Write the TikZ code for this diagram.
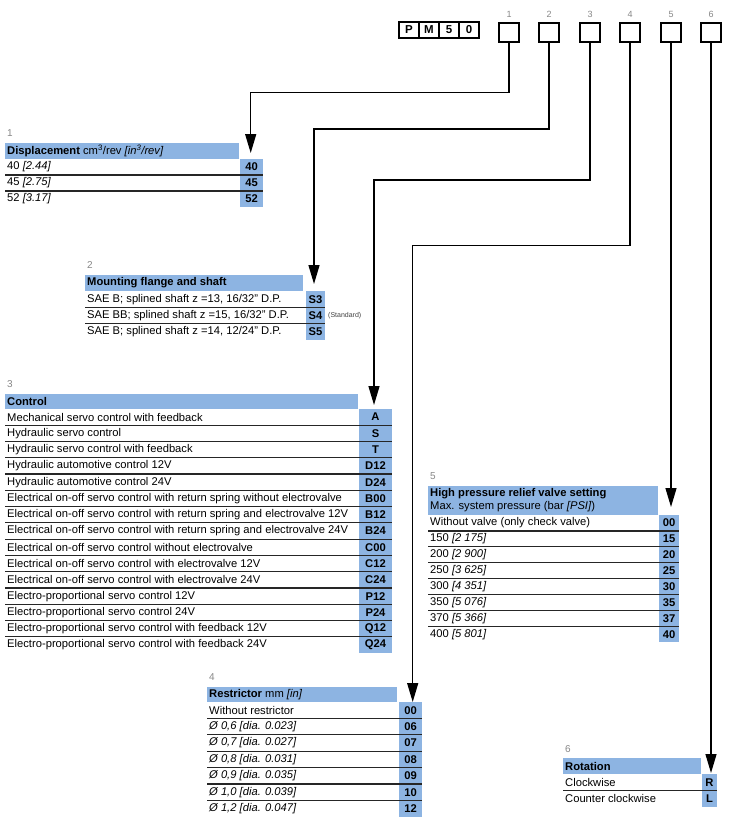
\documentclass[tikz,border=0pt]{standalone}
\usepackage{fontspec}
\setmainfont{Liberation Sans}
\usetikzlibrary{arrows.meta}
\definecolor{cellblue}{RGB}{141,180,226}
\definecolor{labgrey}{RGB}{135,135,135}
\newcommand\secparams[5]{\def\SX{#1}\def\SHB{#2}\def\SRH{#3}\def\SCC{#4}\def\SCR{#5}}
\newcommand\trow[5]{%
  \pgfmathsetmacro\ymid{\SHB+(#2-0.5)*\SRH}%
  \pgfmathsetmacro\ybot{\SHB+#2*\SRH}%
  \node[rowtxt] (#1t#2) at (\SX+1,\ymid) {#3};%
  \node[codetxt] (#1c#2) at (\SCC,\ymid) {#4};%
  \ifnum#5=1 \draw[sep] (\SX,\ybot) -- (\SCR,\ybot);\fi
}
\begin{document}
\begin{tikzpicture}[x=1pt,y=-1pt,
  rowtxt/.style={anchor=west,inner sep=1pt,font=\fontsize{11.2}{13}\selectfont},
  codetxt/.style={inner sep=0pt,font=\fontsize{11.2}{13}\selectfont\bfseries},
  headtxt/.style={anchor=west,inner sep=1pt,font=\fontsize{11.2}{13}\selectfont,align=left},
  seclab/.style={anchor=west,inner sep=0pt,text=labgrey,font=\fontsize{10}{12}\selectfont},
  toplab/.style={inner sep=0pt,text=labgrey,font=\fontsize{9}{10}\selectfont},
  sep/.style={draw=black!85,line width=1.2pt},
  pmcell/.style={draw=black,line width=1.8pt,minimum width=20pt,minimum height=16pt,inner sep=0pt,font=\fontsize{11.5}{13}\selectfont\bfseries},
  optbox/.style={draw=black,line width=2pt,minimum width=20pt,minimum height=19pt,inner sep=0pt},
  conn/.style={draw=black,line width=1.3pt,-{Triangle[length=19pt,width=11pt]}}]
\useasboundingbox (0,0) rectangle (730,827);

% ---- header code boxes
\node[pmcell] (p1) at (409,30) {P};
\node[pmcell] (p2) at (429,30) {M};
\node[pmcell] (p3) at (449,30) {5};
\node[pmcell] (p4) at (469,30) {0};
\foreach \i/\x in {1/509,2/549,3/590,4/630,5/671,6/711}{
  \node[optbox] (b\i) at (\x,32) {};
  \node[toplab] (n\i) at (\x,14.5) {\i};
}

% ---- Section 1
\node[seclab] (l1) at (7,133.5) {1};
\fill[cellblue] (5,143) rectangle (239,159);
\node[headtxt] (h1) at (6,151) {\textbf{Displacement} cm\textsuperscript{3}/rev \textit{[in\textsuperscript{3}/rev]}};
\fill[cellblue] (240,159) rectangle (263,207);
\secparams{5}{159}{16}{251.5}{263}
\trow{a}{1}{40 \textit{[2.44]}}{40}{1}
\trow{a}{2}{45 \textit{[2.75]}}{45}{1}
\trow{a}{3}{52 \textit{[3.17]}}{52}{0}

% ---- Section 2
\node[seclab] (l2) at (87,265.5) {2};
\fill[cellblue] (85,275) rectangle (303,291);
\node[headtxt] (h2) at (86,283) {\textbf{Mounting flange and shaft}};
\fill[cellblue] (306,291) rectangle (325,340);
\secparams{85}{291}{16.3}{315.5}{325}
\trow{b}{1}{SAE B; splined shaft z =13, 16/32" D.P.}{S3}{1}
\trow{b}{2}{SAE BB; splined shaft z =15, 16/32" D.P.}{S4}{1}
\trow{b}{3}{SAE B; splined shaft z =14, 12/24" D.P.}{S5}{0}
\node[anchor=west,inner sep=0pt,font=\fontsize{7}{8}\selectfont,text=black!75] (std) at (328,315.5) {(Standard)};

% ---- Section 3
\node[seclab] (l3) at (7,384) {3};
\fill[cellblue] (5,394) rectangle (358,409);
\node[headtxt] (h3) at (6,401.5) {\textbf{Control}};
\fill[cellblue] (359,409) rectangle (392,653);
\secparams{5}{409}{16.27}{375.5}{392}
\trow{c}{1}{Mechanical servo control with feedback}{A}{1}
\trow{c}{2}{Hydraulic servo control}{S}{1}
\trow{c}{3}{Hydraulic servo control with feedback}{T}{1}
\trow{c}{4}{Hydraulic automotive control 12V}{D12}{1}
\trow{c}{5}{Hydraulic automotive control 24V}{D24}{1}
\trow{c}{6}{Electrical on-off servo control with return spring without electrovalve}{B00}{1}
\trow{c}{7}{Electrical on-off servo control with return spring and electrovalve 12V}{B12}{1}
\trow{c}{8}{Electrical on-off servo control with return spring and electrovalve 24V}{B24}{1}
\trow{c}{9}{Electrical on-off servo control without electrovalve}{C00}{1}
\trow{c}{10}{Electrical on-off servo control with electrovalve 12V}{C12}{1}
\trow{c}{11}{Electrical on-off servo control with electrovalve 24V}{C24}{1}
\trow{c}{12}{Electro-proportional servo control 12V}{P12}{1}
\trow{c}{13}{Electro-proportional servo control 24V}{P24}{1}
\trow{c}{14}{Electro-proportional servo control with feedback 12V}{Q12}{1}
\trow{c}{15}{Electro-proportional servo control with feedback 24V}{Q24}{0}

% ---- Section 5
\node[seclab] (l5) at (430,476.5) {5};
\fill[cellblue] (428,486) rectangle (658,515);
\node[headtxt] (h5) at (429,500.5) {\textbf{High pressure relief valve setting}\\Max. system pressure (bar \textit{[PSI]})};
\fill[cellblue] (659,515) rectangle (679,642);
\secparams{428}{515}{15.9}{669}{679}
\trow{e}{1}{Without valve (only check valve)}{00}{1}
\trow{e}{2}{150 \textit{[2 175]}}{15}{1}
\trow{e}{3}{200 \textit{[2 900]}}{20}{1}
\trow{e}{4}{250 \textit{[3 625]}}{25}{1}
\trow{e}{5}{300 \textit{[4 351]}}{30}{1}
\trow{e}{6}{350 \textit{[5 076]}}{35}{1}
\trow{e}{7}{370 \textit{[5 366]}}{37}{1}
\trow{e}{8}{400 \textit{[5 801]}}{40}{0}

% ---- Section 4
\node[seclab] (l4) at (209,677.5) {4};
\fill[cellblue] (207,687) rectangle (397,702);
\node[headtxt] (h4) at (208,694.5) {\textbf{Restrictor} mm \textit{[in]}};
\fill[cellblue] (399,702) rectangle (422,817);
\secparams{207}{702}{16.4}{410.5}{422}
\trow{d}{1}{Without restrictor}{00}{1}
\trow{d}{2}{\textit{Ø 0,6 [dia. 0.023]}}{06}{1}
\trow{d}{3}{\textit{Ø 0,7 [dia. 0.027]}}{07}{1}
\trow{d}{4}{\textit{Ø 0,8 [dia. 0.031]}}{08}{1}
\trow{d}{5}{\textit{Ø 0,9 [dia. 0.035]}}{09}{1}
\trow{d}{6}{\textit{Ø 1,0 [dia. 0.039]}}{10}{1}
\trow{d}{7}{\textit{Ø 1,2 [dia. 0.047]}}{12}{0}

% ---- Section 6
\node[seclab] (l6) at (565,749) {6};
\fill[cellblue] (563,758) rectangle (701,774);
\node[headtxt] (h6) at (564,766) {\textbf{Rotation}};
\fill[cellblue] (702,774) rectangle (717,807);
\secparams{563}{774}{16.5}{709.5}{717}
\trow{f}{1}{Clockwise}{R}{1}
\trow{f}{2}{Counter clockwise}{L}{0}

% ---- connectors
\coordinate (k1) at (250.7,92.7);  \coordinate (t1) at (250.7,153);
\coordinate (k2) at (314,129);     \coordinate (t2) at (314,284);
\coordinate (k3) at (374,180);     \coordinate (t3) at (374,405);
\coordinate (k4) at (412.7,245.7); \coordinate (t4) at (412.7,702);
\coordinate (t5) at (671,507);
\coordinate (t6) at (711,773);
\draw[conn] (b1.south) |- (k1) -- (t1);
\draw[conn] (b2.south) |- (k2) -- (t2);
\draw[conn] (b3.south) |- (k3) -- (t3);
\draw[conn] (b4.south) |- (k4) -- (t4);
\draw[conn] (b5.south) -- (t5);
\draw[conn] (b6.south) -- (t6);
\end{tikzpicture}
\end{document}
